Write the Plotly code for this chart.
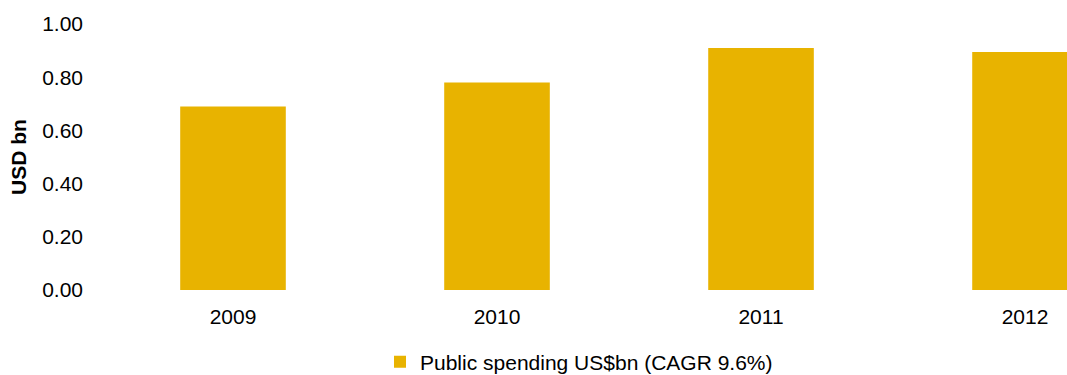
import plotly.graph_objects as go

# Public spending by year (USD bn)
years = ["2009", "2010", "2011", "2012"]
spending = [0.69, 0.78, 0.91, 0.895]
series_name = "Public spending US$bn (CAGR 9.6%)"
y_ticks = [0.0, 0.2, 0.4, 0.6, 0.8, 1.0]
y_tick_text = ["0.00", "0.20", "0.40", "0.60", "0.80", "1.00"]

FONT = "Arial, Liberation Sans, sans-serif"
GOLD = "#E8B300"

fig = go.Figure(
    go.Bar(
        x=years,
        y=spending,
        name=series_name,
        marker=dict(color=GOLD, line=dict(width=0)),
        width=0.4,
        showlegend=True,
    )
)

fig.update_layout(
    width=1067,
    height=375,
    margin=dict(l=101, r=0, t=24, b=85, autoexpand=False),
    paper_bgcolor="white",
    plot_bgcolor="white",
    font=dict(family=FONT, size=21, color="#000000"),
    showlegend=True,
    legend=dict(
        orientation="h",
        x=0.5 - 5 / 966,
        xanchor="center",
        y=-0.271,
        yanchor="middle",
        font=dict(size=21),
        bgcolor="rgba(0,0,0,0)",
    ),
    xaxis=dict(
        type="category",
        range=[-0.5, 3.159],
        showgrid=False,
        showline=False,
        zeroline=False,
        ticks="",
        ticklabelstandoff=12,
    ),
    yaxis=dict(
        range=[0, 1.0],
        tickvals=y_ticks,
        ticktext=y_tick_text,
        showgrid=False,
        showline=False,
        zeroline=False,
        ticks="",
        ticklabelstandoff=17,
    ),
    annotations=[
        dict(
            text="<b>USD bn</b>",
            textangle=-90,
            xref="paper",
            yref="paper",
            x=(18 - 101) / 966,
            y=0.5,
            xanchor="center",
            yanchor="middle",
            showarrow=False,
            font=dict(size=21, family=FONT),
        )
    ],
)

fig.write_html("out.html")
